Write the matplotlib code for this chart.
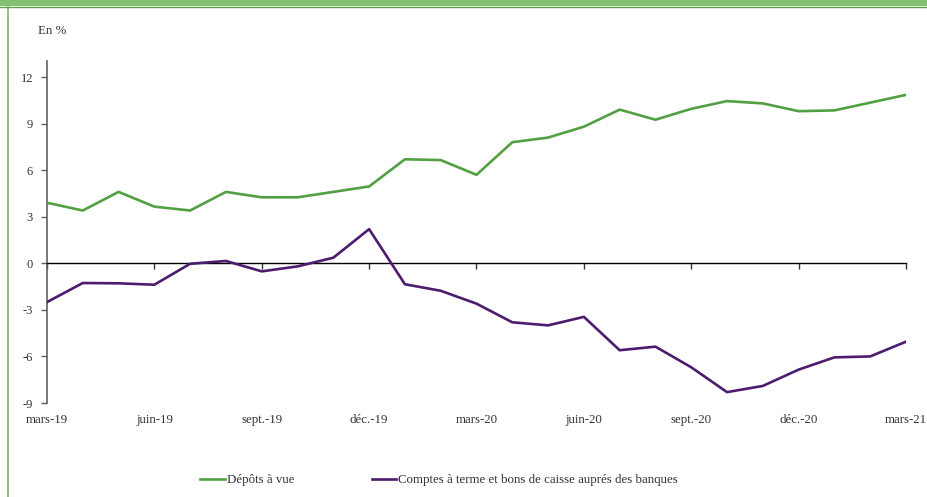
import matplotlib
matplotlib.use("Agg")
import matplotlib.pyplot as plt
from matplotlib.patches import Rectangle
from matplotlib.lines import Line2D

# Monthly series, March 2019 to March 2021 (in %)
months = ["mars-19", "avr.-19", "mai-19", "juin-19", "juil.-19", "août-19",
          "sept.-19", "oct.-19", "nov.-19", "déc.-19", "janv.-20", "févr.-20",
          "mars-20", "avr.-20", "mai-20", "juin-20", "juil.-20", "août-20",
          "sept.-20", "oct.-20", "nov.-20", "déc.-20", "janv.-21", "févr.-21",
          "mars-21"]

depots_a_vue = [3.9, 3.4, 4.6, 3.65, 3.4, 4.6, 4.25, 4.25, 4.6, 4.95,
                6.7, 6.65, 5.7, 7.8, 8.1, 8.8, 9.9, 9.25, 9.95, 10.45,
                10.3, 9.8, 9.85, 10.35, 10.85]

comptes_a_terme = [-2.5, -1.27, -1.29, -1.38, -0.03, 0.15, -0.52, -0.2, 0.36, 2.2,
                   -1.35, -1.77, -2.6, -3.8, -4.0, -3.45, -5.6, -5.37, -6.7, -8.3,
                   -7.9, -6.85, -6.06, -6.0, -5.05]

series_names = ["Dépôts à vue",
                "Comptes à terme et bons de caisse auprés des banques"]

y_ticks = [-9, -6, -3, 0, 3, 6, 9, 12]
x_label_step = 3

GREEN = "#52a043"
PURPLE = "#4c1c6e"
FRAME = "#80c070"

plt.rcParams["font.family"] = ["Liberation Serif", "DejaVu Serif"]

fig = plt.figure(figsize=(9.28, 4.97), dpi=100)

# decorative frame: top band and left rule
fig.patches.append(Rectangle((0, 1 - 6 / 497), 1, 6 / 497, transform=fig.transFigure,
                             facecolor=FRAME, edgecolor="none", zorder=0))
fig.lines.append(Line2D([0, 1], [1 - 6.5 / 497] * 2, transform=fig.transFigure,
                        color="#5e9f4e", lw=1.0))
fig.lines.append(Line2D([8 / 928] * 2, [0, 1 - 6 / 497], transform=fig.transFigure,
                        color="#78b866", lw=1.2))

ax = fig.add_axes([47 / 928, 1 - 403 / 497, (906 - 47) / 928, (403 - 61.5) / 497])

x = list(range(len(months)))
ax.plot(x, depots_a_vue, color=GREEN, lw=1.9, label=series_names[0], zorder=3)
ax.plot(x, comptes_a_terme, color=PURPLE, lw=1.9, label=series_names[1], zorder=3)

ax.set_xlim(0, len(months) - 1)
ax.set_ylim(-9, 13)

# axes styling
for side in ("top", "right"):
    ax.spines[side].set_visible(False)
ax.spines["left"].set_color("#606060")
ax.spines["left"].set_linewidth(1.2)
ax.spines["left"].set_bounds(-9, 13)
ax.spines["bottom"].set_position(("data", 0))
ax.spines["bottom"].set_color("black")
ax.spines["bottom"].set_linewidth(1.0)

ax.set_yticks(y_ticks)
ax.set_yticklabels([str(v) for v in y_ticks])
ax.tick_params(axis="y", direction="out", length=4, width=1, color="#606060",
               labelsize=9, pad=6, labelcolor="#333333")

tick_pos = x[::x_label_step]
ax.set_xticks(tick_pos)
ax.set_xticklabels([])
ax.tick_params(axis="x", direction="out", length=4, width=1, color="#333333")

# month labels below the plotting area
for p in tick_pos:
    ax.text(p, -9.7, months[p], ha="center", va="top", fontsize=9.3, color="#333333",
            transform=ax.transData, clip_on=False)

fig.text(38 / 928, 1 - 31 / 497, "En %", ha="left", va="center", fontsize=9.3,
         color="#333333")

fig.legend(loc="center", bbox_to_anchor=(0.473, 1 - 480 / 497), ncol=2,
           frameon=False, fontsize=9.3, handlelength=1.9, handletextpad=0.15,
           columnspacing=6.0, labelcolor="#333333")

fig.savefig("out.png", dpi=100)
